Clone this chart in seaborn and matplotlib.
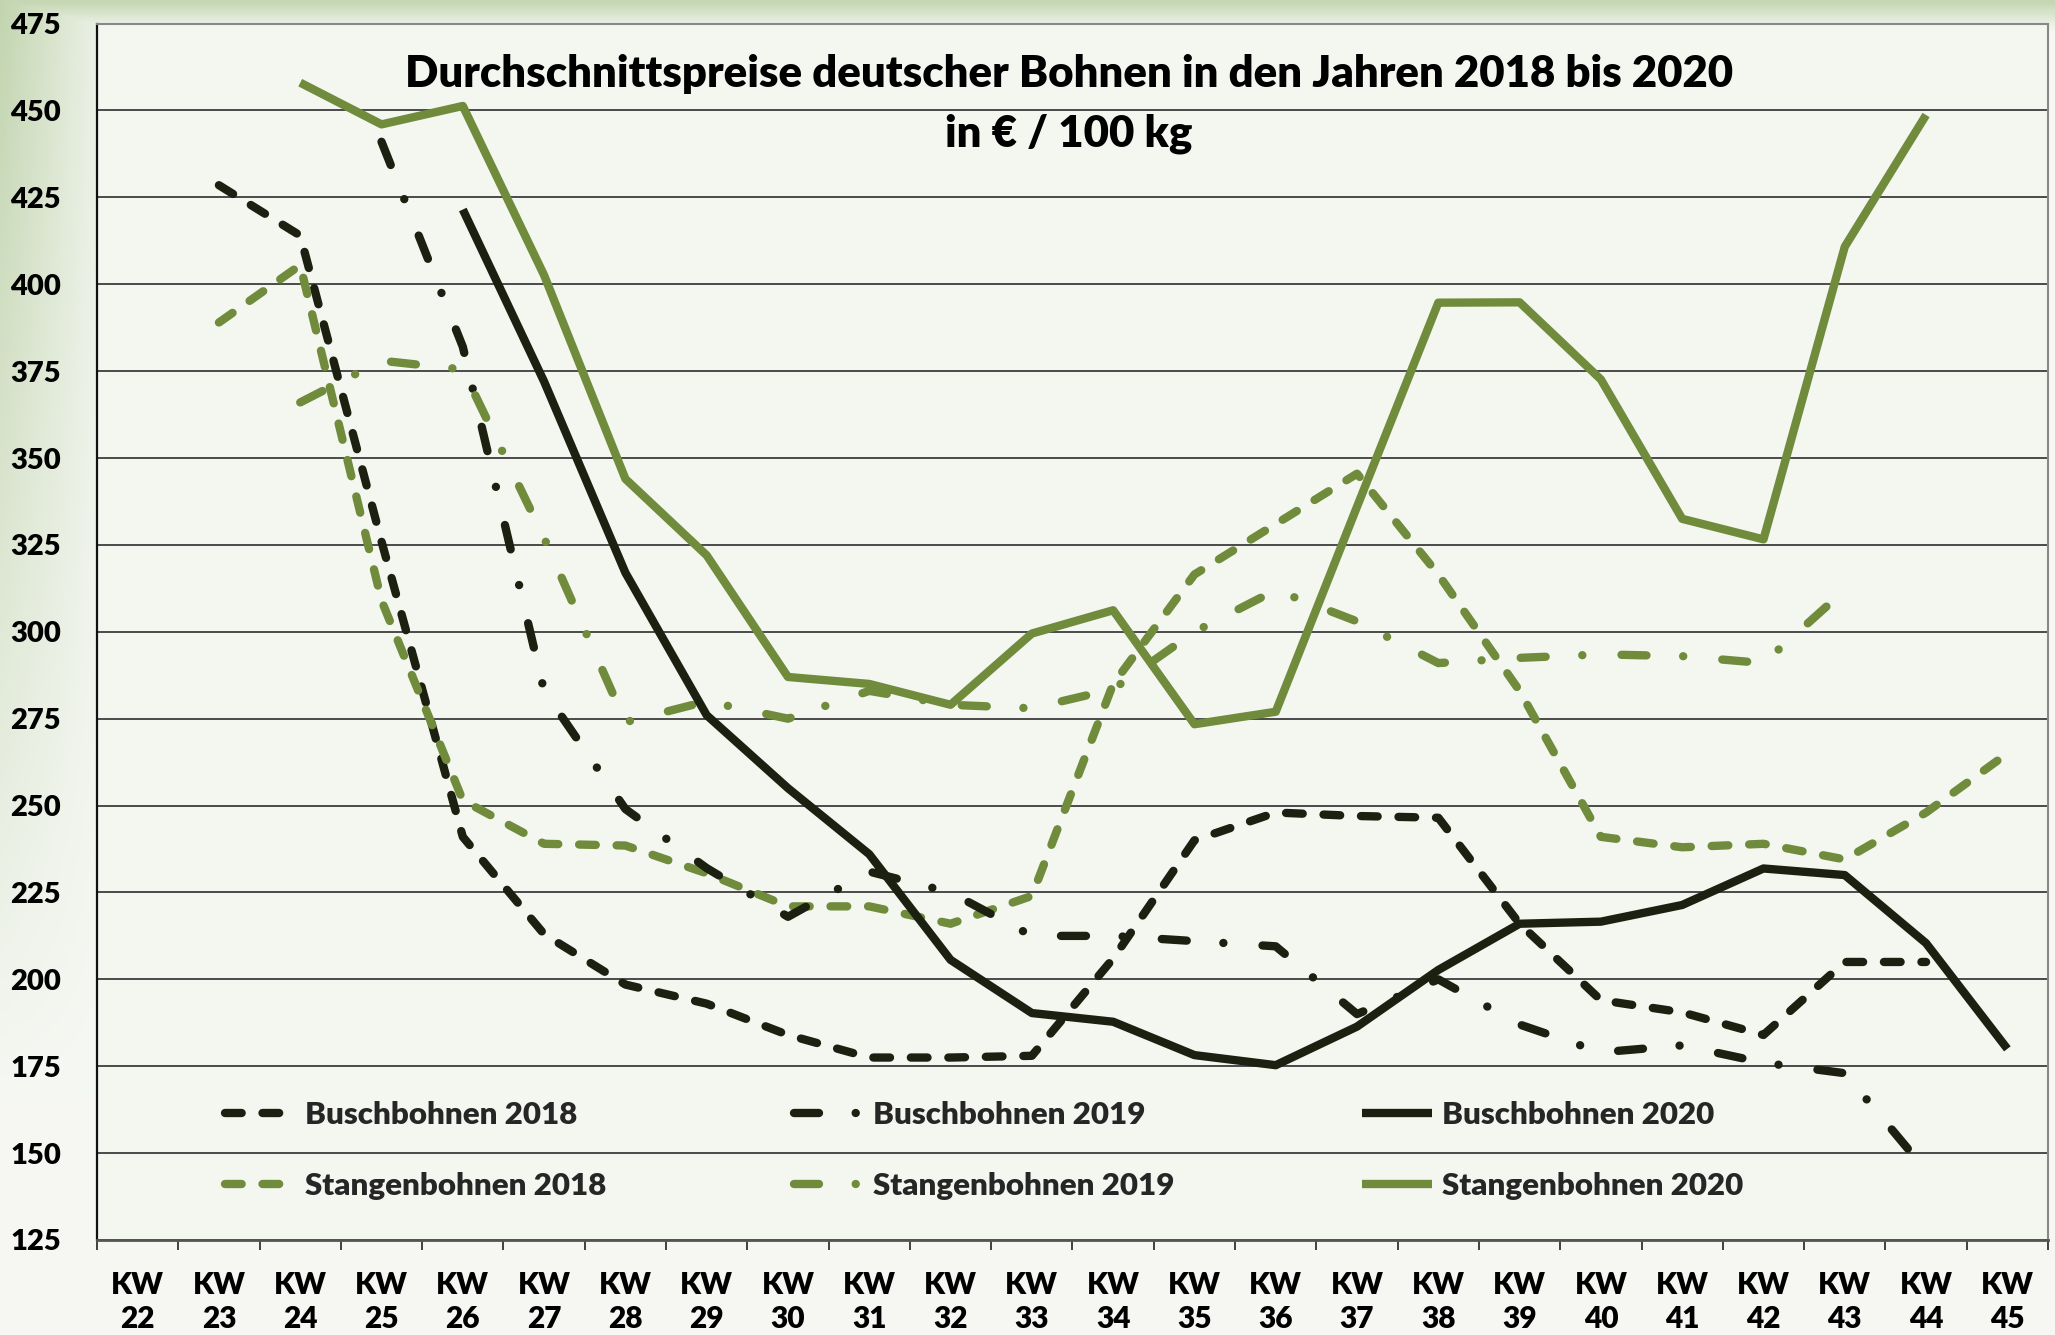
import numpy as np
import pandas as pd
import matplotlib
matplotlib.use("Agg")
import matplotlib.pyplot as plt
import seaborn as sns

nan = np.nan

# calendar weeks KW 22 .. KW 45
weeks = list(range(22, 46))

# average prices in EUR / 100 kg
busch_2018 = [nan, 428.5, 414, 326, 241, 213, 198.5, 193, 184, 177.5, 177.5, 178,
              206, 240, 248, 247, 246.5, 216, 194, 190.5, 184, 205, 205, nan]
stangen_2018 = [nan, 389, 405.5, 309, 251.5, 239, 238.5, 230.5, 221, 221, 216, 224,
                285, 316.5, 331, 345.5, 316.5, 283, 241, 238, 239, 234.5, 248, 265]
busch_2019 = [nan, nan, nan, 441, 382, 283, 249, 232, 218, 231, 225, 212.5,
              212.5, 211, 209.5, 190, 200, 187, 179, 181, 176, 173, 145, nan]
stangen_2019 = [nan, nan, 366, 378, 375.5, 327, 274, 280, 275, 283, 279, 278,
                283.5, 300, 312, 303, 291, 292.5, 293.5, 293, 291, 312, nan, nan]
busch_2020 = [nan, nan, nan, nan, 421.5, 372, 317, 276, 255, 236, 205.6, 190.3,
              187.8, 178.2, 175.3, 186.4, 202.7, 216, 216.6, 221.4, 231.9, 230, 210.4, 180]
stangen_2020 = [nan, nan, 458, 446, 451.3, 402.6, 344, 322, 287, 285, 279, 299.5,
                306.2, 273.4, 277, 336, 394.7, 394.8, 372.6, 332.5, 326.6, 410.8, 448.7, nan]

names = ["Buschbohnen 2018", "Stangenbohnen 2018", "Buschbohnen 2019",
         "Stangenbohnen 2019", "Buschbohnen 2020", "Stangenbohnen 2020"]
values = [busch_2018, stangen_2018, busch_2019, stangen_2019, busch_2020, stangen_2020]

dark = '#1b2010'
green = '#6f8b3b'
palette = {names[0]: dark, names[1]: green, names[2]: dark,
           names[3]: green, names[4]: dark, names[5]: green}
dash = (2.0, 2.5)
dashdot = (3.0, 4.4, 0.01, 4.7)
dashes = {names[0]: dash, names[1]: dash, names[2]: dashdot,
          names[3]: dashdot, names[4]: "", names[5]: ""}

rows = []
for name, vals in zip(names, values):
    for w, v in zip(weeks, vals):
        rows.append({"week": w, "price": v, "series": name})
df = pd.DataFrame(rows).dropna()

sns.set_theme(style="white")
plt.rcParams['font.family'] = ['Lato', 'DejaVu Sans']
plt.rcParams['font.weight'] = 'heavy'
wt = 'heavy'

W, H = 2055, 1335
fig = plt.figure(figsize=(W / 100, H / 100), dpi=100)
fig.patch.set_facecolor('#f6f8f2')

# soft greenish backdrop on the left and top margins
bg = fig.add_axes([0, 0, 1, 1], zorder=-10)
bg.axis('off')
gh, gw = 267, 411
yy, xx = np.mgrid[0:gh, 0:gw]
ypx = yy * H / gh
xpx = xx * W / gw
left = np.clip(1 - xpx / 120, 0, 1) * np.clip(1 - ypx / 1100, 0, 1) * 0.9
top = np.clip(1 - ypx / 28, 0, 1) * 0.85
g = np.maximum(left, top)[..., None]
base = np.array([0.965, 0.972, 0.955])
tint = np.array([0.74, 0.82, 0.66])
bg.imshow(base * (1 - g) + tint * g, aspect='auto', interpolation='bilinear',
          extent=[0, 1, 0, 1])

ax = fig.add_axes([97 / W, 1 - 1240 / H, (2048 - 97) / W, (1240 - 23.6) / H])
ax.set_facecolor('#f4f6f0')

sns.lineplot(data=df, x="week", y="price", hue="series", style="series",
             palette=palette, dashes=dashes, linewidth=6, legend=False,
             sort=False, ax=ax, dash_capstyle='round', solid_capstyle='butt',
             solid_joinstyle='round', dash_joinstyle='round')

ax.set_xlim(21.5, 45.5)
ax.set_ylim(125, 475)
ax.set_yticks(np.arange(125, 476, 25))
ax.set_xticks(np.arange(21.5, 46, 1))
ax.set_xticklabels([])
ax.set_xticks(weeks, minor=True)
ax.set_xticklabels([f"KW\n{w}" for w in weeks], minor=True)
ax.set_xlabel("")
ax.set_ylabel("")

ax.yaxis.grid(True, color='#3c3c3c', linewidth=1.3)
ax.xaxis.grid(False)
ax.set_axisbelow(True)

ax.tick_params(axis='y', which='major', direction='out', length=7, width=1.2,
               color='#222222', pad=19, labelsize=21, labelcolor='black')
ax.tick_params(axis='x', which='major', direction='out', length=7, width=1.2,
               color='#222222', bottom=True)
ax.tick_params(axis='x', which='minor', length=0, pad=22, labelsize=21.5,
               labelcolor='black', bottom=True)
for t in ax.get_xticklabels(minor=True):
    t.set_linespacing(1.3)
    t.set_fontweight(wt)
for t in ax.get_yticklabels():
    t.set_fontweight(wt)

ax.spines['left'].set_color('#111111')
ax.spines['left'].set_linewidth(1.6)
ax.spines['bottom'].set_color('#555555')
ax.spines['bottom'].set_linewidth(2)
ax.spines['top'].set_color('#888888')
ax.spines['top'].set_linewidth(1.5)
ax.spines['right'].set_color('#888888')
ax.spines['right'].set_linewidth(1.5)

ax.legend(handles=ax.lines[:6], labels=names, ncol=3, loc='upper left',
          bbox_to_anchor=(225 / W, 1 - 1101 / H), bbox_transform=fig.transFigure,
          frameon=False, prop={'size': 22.5, 'weight': wt},
          handlelength=2.25, handletextpad=0.3, columnspacing=6.0,
          labelspacing=1.36, borderpad=0, borderaxespad=0)

fig.text(1069 / W, 1 - 74 / H,
         "Durchschnittspreise deutscher Bohnen in den Jahren 2018 bis 2020",
         ha='center', va='center', fontsize=31.5, fontweight=wt, color='black')
fig.text(1069 / W, 1 - 134 / H, "in € / 100 kg",
         ha='center', va='center', fontsize=31.5, fontweight=wt, color='black')

fig.savefig("out.png", dpi=100, facecolor=fig.get_facecolor())
